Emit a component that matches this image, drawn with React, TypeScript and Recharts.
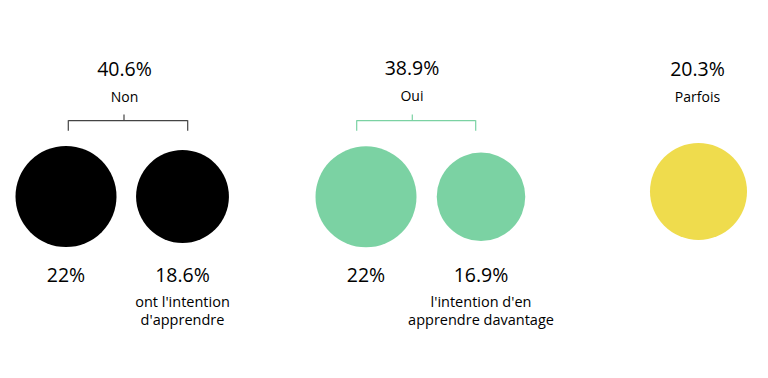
import React from "react";
import {
  ScatterChart,
  Scatter,
  XAxis,
  YAxis,
  ZAxis,
  Cell,
  ReferenceLine,
} from "recharts";

// circles (area ∝ value)
const categories = ["Non", "Non - intention", "Oui", "Oui - davantage", "Parfois"];
const values = [22, 18.6, 22, 16.9, 20.3];
const valueLabels = ["22%", "18.6%", "22%", "16.9%", ""];
const notes = [
  [],
  ["ont l'intention", "d'apprendre"],
  [],
  ["l'intention d'en", "apprendre davantage"],
  [],
];
const xPos = [66, 182.5, 366, 481, 698.5];
const yPos = [196.5, 196.5, 196.8, 196.8, 191.5];
const colors = ["#000000", "#000000", "#7bd2a3", "#7bd2a3", "#efdc4d"];

// group headers
const groupNames = ["Non", "Oui", "Parfois"];
const groupTotals = ["40.6%", "38.9%", "20.3%"];
const groupX = [124.5, 412, 697.5];
const groupY = [75.5, 74.5, 75.5];

// brackets over the pairs
const bracketStart = [68.3, 356.7];
const bracketEnd = [187.7, 475.7];
const bracketMid = [124, 412.3];
const bracketColors = ["#444444", "#7bd2a3"];

const W = 768;
const H = 378;
const FONT = "'Open Sans', sans-serif";

const circles = categories.map((name, i) => ({
  name,
  x: xPos[i],
  y: yPos[i],
  value: values[i],
  label: valueLabels[i],
  note: notes[i],
}));

const groups = groupNames.map((name, i) => ({
  name,
  x: groupX[i],
  y: groupY[i],
  total: groupTotals[i],
}));

function BottomLabel(props: any) {
  const { cx, cy, payload } = props;
  return (
    <g fontFamily={FONT} fill="#000" textAnchor="middle">
      {payload.label && (
        <text x={cx} y={cy + 85} fontSize={19.5}>
          {payload.label}
        </text>
      )}
      {payload.note.map((line: string, j: number) => (
        <text key={j} x={cx} y={cy + 110 + j * 18.5} fontSize={14.5}>
          {line}
        </text>
      ))}
    </g>
  );
}

function GroupLabel(props: any) {
  const { cx, cy, payload } = props;
  return (
    <g fontFamily={FONT} fill="#000" textAnchor="middle">
      <text x={cx} y={cy} fontSize={19.5}>
        {payload.total}
      </text>
      <text x={cx} y={cy + 26.5} fontSize={14}>
        {payload.name}
      </text>
    </g>
  );
}

export default function App() {
  const maxArea = Math.PI * 50.5 * 50.5;
  return (
    <div style={{ position: "absolute", left: 0, top: 0, background: "#fff" }}>
      <ScatterChart
        width={W}
        height={H}
        margin={{ top: 0, right: 0, bottom: 0, left: 0 }}
      >
        <XAxis type="number" dataKey="x" domain={[0, W]} hide />
        <YAxis type="number" dataKey="y" domain={[0, H]} reversed hide />
        <ZAxis type="number" dataKey="value" domain={[0, 22]} range={[0, maxArea]} />

        {bracketStart.map((x0, i) => {
          const x1 = bracketEnd[i];
          const c = bracketColors[i];
          return (
            <React.Fragment key={i}>
              <ReferenceLine
                segment={[{ x: x0, y: 120.7 }, { x: x1, y: 120.7 }]}
                stroke={c}
                strokeWidth={1.2}
                ifOverflow="visible"
              />
              <ReferenceLine
                segment={[{ x: x0, y: 120.2 }, { x: x0, y: 130.7 }]}
                stroke={c}
                strokeWidth={1.2}
                ifOverflow="visible"
              />
              <ReferenceLine
                segment={[{ x: x1, y: 120.2 }, { x: x1, y: 130.7 }]}
                stroke={c}
                strokeWidth={1.2}
                ifOverflow="visible"
              />
              <ReferenceLine
                segment={[{ x: bracketMid[i], y: 114.5 }, { x: bracketMid[i], y: 121 }]}
                stroke={c}
                strokeWidth={1.2}
                ifOverflow="visible"
              />
            </React.Fragment>
          );
        })}

        <Scatter data={circles} isAnimationActive={false}>
          {circles.map((_, i) => (
            <Cell key={i} fill={colors[i]} />
          ))}
        </Scatter>
        <Scatter
          data={circles}
          isAnimationActive={false}
          shape={(p: any) => <BottomLabel {...p} />}
        />
        <Scatter
          data={groups}
          isAnimationActive={false}
          shape={(p: any) => <GroupLabel {...p} />}
        />
      </ScatterChart>
    </div>
  );
}
